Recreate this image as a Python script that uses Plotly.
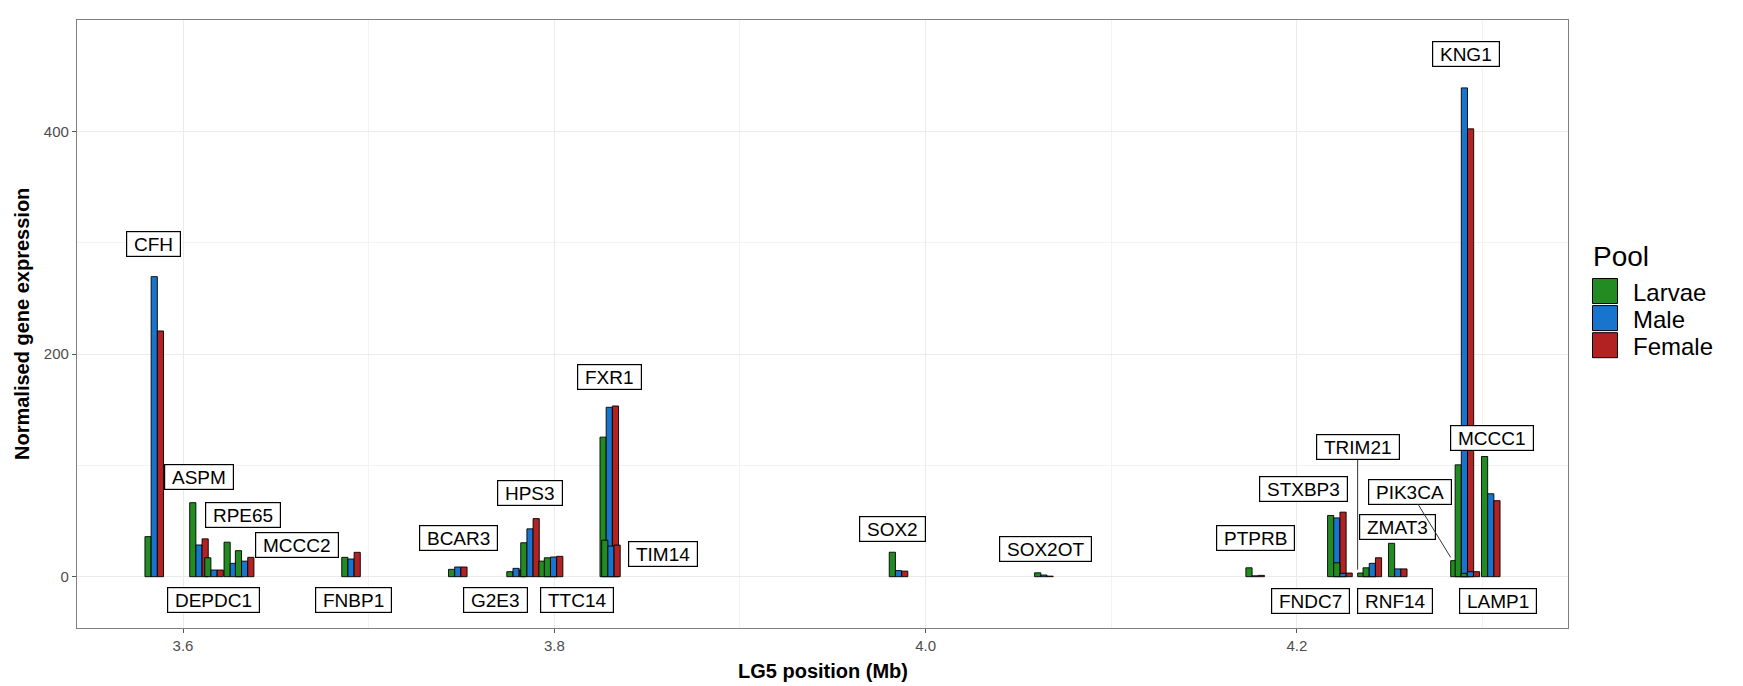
import plotly.graph_objects as go

# ---- expression per gene along LG5 -------------------------------------
genes = ["CFH", "ASPM", "DEPDC1", "RPE65", "MCCC2", "FNBP1", "BCAR3", "G2E3",
         "HPS3", "TTC14", "", "FXR1", "TIM14", "SOX2", "SOX2OT", "PTPRB",
         "STXBP3", "FNDC7", "TRIM21", "RNF14", "ZMAT3", "PIK3CA", "KNG1",
         "LAMP1", "MCCC1"]
position_mb = [3.5845, 3.6086, 3.6167, 3.6271, 3.6332, 3.6905, 3.7480, 3.7794,
               3.7869, 3.7967, 3.7996, 3.8296, 3.8305, 3.9854, 4.0637, 4.1775,
               4.2215, 4.2248, 4.2377, 4.2406, 4.2543, 4.2878, 4.2902,
               4.2934, 4.3044]
larvae = [36, 66.5, 17, 31, 23.4, 17.4, 6.6, 4.5, 30.5, 14, 17, 125.4, 32.8,
          22, 3.5, 8, 55, 12.5, 3.3, 8, 30, 14.4, 100.5, 3, 108]
male = [269.6, 28.5, 6, 12, 14, 15.9, 8.7, 7.5, 43, 12, 17.7, 152.2, 27.5,
        5.5, 1.5, 0.8, 52.8, 3, 2, 12, 7, 5, 439.2, 4.5, 74.5]
female = [220.8, 34, 6, 12, 17.4, 21.9, 8.7, 6, 52.2, 12, 18.3, 153.4, 28.4,
          5, 0.5, 1.2, 58, 3.3, 2, 17, 7, 5, 402.4, 4.5, 68.3]

pools = ["Larvae", "Male", "Female"]
pool_values = [larvae, male, female]
pool_colours = ["#228B22", "#1874CD", "#B22222"]

x_ticks = [3.6, 3.8, 4.0, 4.2]
y_ticks = [0, 200, 400]

# ---- geometry / styling ------------------------------------------------
GROUP_W = 0.01
BAR_W = GROUP_W / 3
X_RANGE = [3.5429, 4.346]
Y_RANGE = [-46.1, 500.2]
W, H = 1743, 686
M_L, M_R, M_T, M_B = 77, 175, 20, 58
PLOT_W = W - M_L - M_R
PLOT_H = H - M_T - M_B
FONT = "Liberation Sans, Arial, Helvetica, sans-serif"

# where each gene label box sits (data coordinates)
label_pos = {
    "CFH": (3.5843, 299.2), "ASPM": (3.6087, 89.8), "RPE65": (3.6322, 55.0),
    "MCCC2": (3.6615, 28.2), "DEPDC1": (3.6163, -20.7), "FNBP1": (3.6916, -20.7),
    "BCAR3": (3.7485, 34.8), "HPS3": (3.7869, 74.8), "FXR1": (3.8298, 179.6),
    "TIM14": (3.8584, 20.4), "G2E3": (3.7685, -20.9), "TTC14": (3.8120, -20.9),
    "SOX2": (3.9822, 42.9), "SOX2OT": (4.0647, 25.1), "PTPRB": (4.1778, 34.5),
    "STXBP3": (4.2035, 79.2), "TRIM21": (4.2327, 116.1), "PIK3CA": (4.2611, 76.3),
    "ZMAT3": (4.2543, 44.8), "FNDC7": (4.2072, -21.7), "RNF14": (4.2529, -21.7),
    "LAMP1": (4.3082, -21.7), "MCCC1": (4.3049, 124.8), "KNG1": (4.2912, 470.1),
}
# labels pushed far enough away to get a leader segment
segment_genes = {"TRIM21", "PIK3CA"}


def paper_x(px):
    return (px - M_L) / PLOT_W


def paper_y(py):
    return (H - M_B - py) / PLOT_H


fig = go.Figure()

# bars, gene by gene so later genes overlap earlier ones
for i, gene in enumerate(genes):
    for k, (pool, vals, colour) in enumerate(zip(pools, pool_values, pool_colours)):
        fig.add_trace(go.Bar(
            x=[position_mb[i]], y=[vals[i]],
            width=BAR_W, offset=(k - 1.5) * BAR_W,
            marker=dict(color=colour, line=dict(color="black", width=0.9)),
            name=pool, showlegend=False,
            hovertemplate=f"{gene or 'gene'} ({pool})<br>%{{x:.4f}} Mb<br>%{{y}}<extra></extra>",
        ))

annotations = []
label_font = dict(family=FONT, size=19, color="black")
nb = "\u00a0"
for i, gene in enumerate(genes):
    if not gene:
        continue
    lx, ly = label_pos[gene]
    common = dict(text=nb + gene + nb, font=label_font, bgcolor="white",
                  bordercolor="black", borderwidth=1.2, borderpad=1.5)
    if gene in segment_genes:
        annotations.append(dict(
            x=position_mb[i] - GROUP_W / 2, y=larvae[i] + 3, xref="x", yref="y",
            ax=lx, ay=ly, axref="x", ayref="y", showarrow=True, arrowhead=0,
            arrowwidth=1, arrowcolor="#333333", standoff=0, **common))
    else:
        annotations.append(dict(
            x=lx, y=ly, xref="x", yref="y", showarrow=False,
            xanchor="center", yanchor="middle", **common))

# axis titles
annotations.append(dict(text="<b>LG5 position (Mb)</b>", x=0.5, y=0, xref="paper", yref="paper",
                        yshift=-43, showarrow=False, xanchor="center", yanchor="middle",
                        font=dict(family=FONT, size=20, color="black")))
annotations.append(dict(text="<b>Normalised gene expression</b>", x=0, y=0.5, xref="paper",
                        yref="paper", xshift=-55, showarrow=False, textangle=-90,
                        xanchor="center", yanchor="middle",
                        font=dict(family=FONT, size=20, color="black")))

# legend: title, keys and labels
shapes = []
annotations.append(dict(text="Pool", x=paper_x(1591), y=paper_y(256), xref="paper", yref="paper",
                        showarrow=False, xanchor="left", yanchor="middle",
                        font=dict(family=FONT, size=28, color="black")))
key_top = 278.5
key_size = 25
key_step = 27.1
for k, (pool, colour) in enumerate(zip(pools, pool_colours)):
    top = key_top + k * key_step
    shapes.append(dict(type="rect", xref="paper", yref="paper",
                       x0=paper_x(1592.5), x1=paper_x(1592.5 + key_size),
                       y0=paper_y(top + key_size), y1=paper_y(top),
                       fillcolor=colour, line=dict(color="black", width=1)))
    annotations.append(dict(text=pool, x=paper_x(1631), y=paper_y(top + key_size / 2 + 1.5),
                            xref="paper", yref="paper", showarrow=False,
                            xanchor="left", yanchor="middle",
                            font=dict(family=FONT, size=24, color="black")))

axis_common = dict(
    showgrid=True, gridcolor="#ebebeb", gridwidth=1.2,
    ticks="outside", ticklen=4, tickwidth=1, tickcolor="#555555",
    tickfont=dict(family=FONT, size=15, color="#4d4d4d"),
    showline=True, mirror=True, linecolor="#808080", linewidth=1.3,
    zeroline=False,
)

fig.update_layout(
    width=W, height=H,
    margin=dict(l=M_L, r=M_R, t=M_T, b=M_B, autoexpand=False),
    plot_bgcolor="white", paper_bgcolor="white",
    barmode="overlay", showlegend=False,
    font=dict(family=FONT),
    annotations=annotations, shapes=shapes,
    xaxis=dict(range=X_RANGE, tickvals=x_ticks, ticktext=[f"{v:.1f}" for v in x_ticks],
               minor=dict(dtick=0.1, tick0=3.5, showgrid=True, gridcolor="#f3f3f3",
                          gridwidth=0.6, ticks=""),
               **axis_common),
    yaxis=dict(range=Y_RANGE, tickvals=y_ticks, ticktext=[str(v) for v in y_ticks],
               minor=dict(dtick=100, tick0=0, showgrid=True, gridcolor="#f3f3f3",
                          gridwidth=0.6, ticks=""),
               **axis_common),
)

fig.write_html("out.html")
